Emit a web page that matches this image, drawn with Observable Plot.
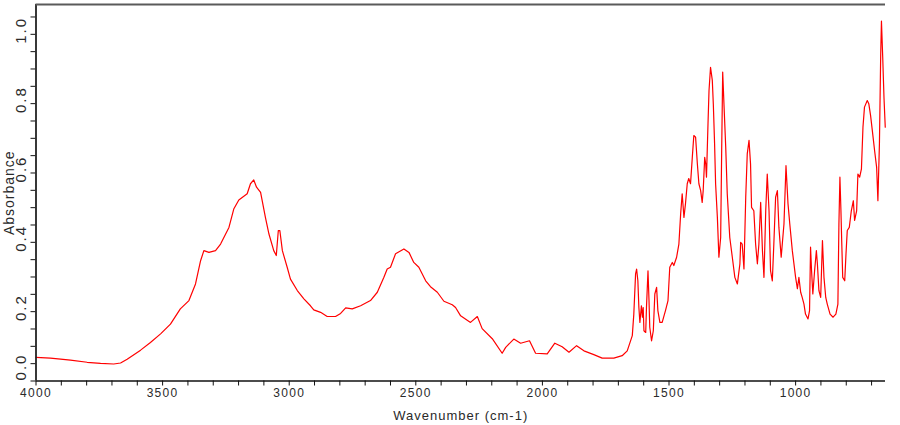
<!DOCTYPE html>
<html>
<head>
<meta charset="utf-8">
<script src="https://cdn.jsdelivr.net/npm/d3@7"></script>
<script src="https://cdn.jsdelivr.net/npm/@observablehq/plot@0.6"></script>
<style>
  html, body { margin: 0; padding: 0; background: #fff; }
  #chart svg { display: block; }
  g.xlab text { letter-spacing: 1.3px; }
  g.ylab text { letter-spacing: 2px; }
  g.title text { letter-spacing: 1px; }
</style>
</head>
<body>
<div id="chart"></div>
<script>
// Wavenumber (cm-1)
const wavenumber = [
  4000,3943,3903,3864,3798,3745,3693,3666,3640,3587,
  3548,3508,3469,3430,3396,3370,3350,3337,3317,3291,
  3271,3238,3219,3199,3166,3153,3140,3129,3113,3094,
  3080,3061,3051,3043,3037,3027,3008,2995,2968,2942,
  2916,2903,2876,2850,2817,2797,2777,2751,2718,2679,
  2652,2626,2613,2600,2580,2547,2527,2508,2488,2461,
  2442,2415,2389,2356,2343,2323,2284,2257,2238,2198,
  2159,2145,2113,2086,2051,2027,1981,1951,1922,1895,
  1865,1836,1797,1764,1718,1685,1665,1645,1639,1632,
  1628,1623,1619,1615,1609,1605,1602,1599,1592,1589,
  1583,1579,1576,1569,1562,1556,1549,1544,1536,1527,
  1514,1504,1497,1487,1481,1470,1461,1454,1448,1441,
  1435,1428,1422,1415,1408,1402,1395,1388,1382,1375,
  1369,1365,1359,1355,1352,1346,1342,1336,1329,1325,
  1320,1316,1309,1303,1296,1292,1288,1283,1276,1270,
  1260,1250,1240,1230,1220,1217,1211,1204,1197,1191,
  1184,1178,1174,1165,1158,1151,1145,1138,1131,1125,
  1118,1112,1105,1099,1092,1086,1079,1072,1066,1057,
  1046,1038,1030,1023,1013,1000,993,987,980,974,
  967,961,951,945,941,937,932,925,918,914,
  908,901,894,888,881,875,864,852,841,833,
  829,825,821,818,814,806,801,796,788,780,
  772,767,759,754,747,740,734,728,717,711,
  704,697,688,680,675,669,664,661,656,651,646
];
// Absorbance at each wavenumber
const absorbance = [
  0.068,0.066,0.063,0.060,0.054,0.051,0.049,0.052,0.063,0.089,
  0.111,0.136,0.164,0.208,0.232,0.280,0.347,0.376,0.371,0.376,
  0.395,0.443,0.496,0.522,0.540,0.569,0.580,0.559,0.544,0.472,
  0.424,0.376,0.362,0.434,0.434,0.376,0.328,0.294,0.261,0.237,
  0.217,0.205,0.198,0.186,0.186,0.195,0.211,0.208,0.217,0.232,
  0.256,0.299,0.323,0.328,0.367,0.381,0.371,0.342,0.328,0.289,
  0.272,0.256,0.230,0.220,0.212,0.188,0.169,0.186,0.151,0.122,
  0.080,0.097,0.121,0.109,0.116,0.080,0.078,0.109,0.099,0.083,
  0.102,0.087,0.076,0.066,0.066,0.073,0.087,0.131,0.193,0.309,
  0.323,0.289,0.212,0.169,0.217,0.184,0.212,0.145,0.140,0.212,
  0.318,0.232,0.155,0.116,0.145,0.251,0.270,0.203,0.169,0.169,
  0.203,0.232,0.328,0.342,0.333,0.357,0.395,0.482,0.540,0.472,
  0.511,0.569,0.584,0.569,0.645,0.708,0.703,0.626,0.569,0.549,
  0.515,0.549,0.645,0.626,0.588,0.742,0.838,0.905,0.867,0.799,
  0.684,0.569,0.472,0.357,0.414,0.665,0.891,0.799,0.674,0.540,
  0.414,0.357,0.299,0.280,0.338,0.400,0.395,0.323,0.530,0.655,
  0.694,0.626,0.501,0.491,0.395,0.338,0.395,0.515,0.376,0.299,
  0.491,0.597,0.491,0.318,0.289,0.395,0.530,0.549,0.443,0.357,
  0.453,0.621,0.511,0.453,0.376,0.299,0.266,0.299,0.256,0.241,
  0.222,0.193,0.179,0.203,0.386,0.318,0.251,0.318,0.376,0.338,
  0.261,0.241,0.405,0.299,0.241,0.222,0.193,0.184,0.193,0.222,
  0.453,0.588,0.491,0.405,0.299,0.289,0.367,0.434,0.443,0.491,
  0.520,0.463,0.491,0.597,0.588,0.612,0.732,0.790,0.809,0.800,
  0.766,0.722,0.664,0.616,0.520,0.684,0.939,1.038,0.934,0.818,0.732
];

const xDomain = [4000, 645];
const yDomain = [0, 1.086];
const xLabelTicks = [4000, 3500, 3000, 2500, 2000, 1500, 1000];
const xMinorTicks = [4000,3900,3800,3700,3600,3500,3400,3300,3200,3100,3000,2900,2800,2700,2600,2500,
  2400,2300,2200,2100,2000,1900,1800,1700,1600,1500,1400,1300,1200,1100,1000,900,800,700];
const yLabelTicks = [0.0, 0.2, 0.4, 0.6, 0.8, 1.0];
const yMinorTicks = [0,0.05,0.1,0.15,0.2,0.25,0.3,0.35,0.4,0.45,0.5,0.55,0.6,0.65,0.7,0.75,0.8,0.85,0.9,0.95,1.0,1.05];
const xTitle = "Wavenumber (cm-1)";
const yTitle = "Absorbance";

const n = Math.min(wavenumber.length, absorbance.length);
const spectrum = d3.range(n).map(i => ({w: wavenumber[i], a: absorbance[i]}));

const font = "Arial, 'Liberation Sans', sans-serif";
const textColor = "#2a2a2a";

const chart = Plot.plot({
  width: 900,
  height: 425,
  marginLeft: 35.5,
  marginRight: 15,
  marginTop: 4,
  marginBottom: 44.5,
  style: {fontFamily: font, background: "#fff", overflow: "visible"},
  x: {domain: xDomain},
  y: {domain: yDomain},
  marks: [
    Plot.line(spectrum, {x: "w", y: "a", stroke: "#ff0000", strokeWidth: 1.2}),
    Plot.axisX(xMinorTicks, {anchor: "bottom", tickSize: 5, tickFormat: () => "", stroke: "#111", label: null}),
    Plot.axisY(yMinorTicks, {anchor: "left", tickSize: 5, tickFormat: () => "", stroke: "#111", label: null}),
    Plot.ruleY([yDomain[0]], {stroke: "#111", strokeWidth: 1.5}),
    Plot.ruleX([xDomain[0]], {stroke: "#222", strokeWidth: 1.8}),
    Plot.ruleY([yDomain[1]], {stroke: "#5a5a5a", strokeWidth: 2}),
    Plot.text(xLabelTicks, {x: d => d, text: d => String(d), frameAnchor: "bottom", lineAnchor: "top",
      textAnchor: "middle", dy: 7, fontSize: 12, fill: textColor, className: "xlab"}),
    Plot.text(yLabelTicks.slice(1), {y: d => d, text: d => d.toFixed(1), frameAnchor: "left", rotate: -90,
      textAnchor: "middle", lineAnchor: "middle", dx: -14.5, dy: -4, fontSize: 15, fill: textColor, className: "ylab"}),
    Plot.text(yLabelTicks.slice(0, 1), {y: d => d, text: d => d.toFixed(1), frameAnchor: "left", rotate: -90,
      textAnchor: "middle", lineAnchor: "middle", dx: -14.5, dy: -14, fontSize: 15, fill: textColor, className: "ylab"}),
    Plot.text([xTitle], {text: d => d, frameAnchor: "bottom", lineAnchor: "top", textAnchor: "middle",
      dy: 30, fontSize: 13, fill: textColor, className: "title"}),
    Plot.text([yTitle], {text: d => d, frameAnchor: "left", rotate: -90, textAnchor: "middle",
      lineAnchor: "middle", dx: -26.5, fontSize: 14, fill: textColor, className: "title"})
  ]
});
document.getElementById("chart").appendChild(chart);
</script>
</body>
</html>
